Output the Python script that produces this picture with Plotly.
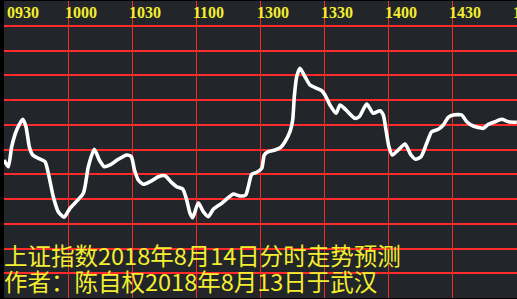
import plotly.graph_objects as go

# minutes since 09:30 (trading-time axis, 240 minutes total)
minutes = [0, 2.02, 3.61, 5.95, 8.77, 10.31, 11.86, 13.45, 16.08, 19.22, 20.77, 23.11, 25.45, 28.13,
           30.94, 37.17, 39.52, 42.33, 44.67, 47.02, 49.69, 53.58, 57.52, 59.67, 61.17, 62.95, 65.30,
           68.44, 72.33, 75.47, 78.61, 80.95, 83.77, 85.64, 87.19, 88.45, 91.08, 93.42, 95.77, 98.11,
           102.05, 105.14, 107.48, 110.63, 113.30, 114.52, 116.11, 118.45, 120.80, 122.02, 123.89,
           127.03, 129.70, 131.72, 134.06, 135.33, 136.08, 137.20, 138.75, 141.09, 143.44, 146.58,
           148.92, 150.47, 152.81, 155.63, 157.5, 160.31, 164.53, 166.55, 170.02, 173.11, 176.25,
           177.80, 179.06, 180.47, 182.02, 184.83, 187.97, 190.78, 192.98, 195.47, 198.14, 200.48,
           203.58, 205.92, 208.27, 210.61, 214.55, 216.89, 219.98, 224.67, 227.02, 230.16, 233.30,
           236.39, 240.4]

# predicted level, in grid-row units
values = [5.576, 5.305, 6.113, 6.788, 7.220, 6.921, 6.113, 5.778, 5.644, 5.507, 5.038, 4.093, 3.487, 3.261,
          3.624, 4.230, 5.305, 6.008, 5.576, 5.305, 5.374, 5.604, 5.778, 5.709, 5.172, 4.768, 4.594,
          4.699, 4.901, 4.941, 4.659, 4.497, 4.404, 3.960, 3.422, 3.244, 3.851, 3.487, 3.285, 3.584,
          3.826, 4.053, 4.202, 4.121, 4.162, 4.497, 4.998, 5.079, 5.240, 5.778, 5.911,
          5.980, 6.089, 6.315, 6.719, 7.192, 8.133, 8.941, 9.281, 8.941, 8.606, 8.473,
          8.376, 8.202, 7.798, 7.463, 7.798, 7.596, 7.261, 7.325, 7.838, 7.463, 7.568,
          7.394, 6.788, 6.101, 5.778, 5.980, 6.222, 5.778, 5.604, 5.709, 6.251, 6.719,
          6.816, 6.990, 7.301, 7.394, 7.394, 7.123, 6.949, 6.857, 7.018, 7.123, 7.220,
          7.123, 7.099]

tick_minutes = [0, 30, 60, 90, 120, 150, 180, 210, 240]
tick_labels = ["0930", "1000", "1030", "1100", "1300", "1330", "1400", "1430", "1500"]
row_levels = list(range(0, 13))

title_line1 = "上证指数2018年8月14日分时走势预测"
title_line2 = "作者：陈自权2018年8月13日于武汉"

RED = "#f02a2a"
YELLOW = "#f4ee30"

fig = go.Figure()
fig.add_trace(go.Scatter(x=minutes, y=values, mode="lines",
                         line=dict(color="white", width=3.6, shape="spline", smoothing=0.6),
                         hoverinfo="skip"))

annotations = []
for i, (m, lab) in enumerate(zip(tick_minutes, tick_labels)):
    annotations.append(dict(x=m, y=11.55, xref="x", yref="y", text=lab, showarrow=False,
                            xanchor="left", yanchor="middle", xshift=(1 if i == 0 else -5),
                            font=dict(family="Liberation Serif", size=16, color=YELLOW, weight="bold")))
annotations.append(dict(x=0, y=(298 - 255) / 24.75, xref="x", yref="y", text=title_line1, showarrow=False,
                        xanchor="left", yanchor="middle", xshift=-2,
                        font=dict(family="Noto Sans CJK SC", size=23.5, color=YELLOW)))
annotations.append(dict(x=0, y=(298 - 281) / 24.75, xref="x", yref="y", text=title_line2, showarrow=False,
                        xanchor="left", yanchor="middle", xshift=-2,
                        font=dict(family="Noto Sans CJK SC", size=23.5, color=YELLOW)))

fig.update_layout(
    width=517, height=299,
    margin=dict(l=4, r=0, t=1, b=1),
    paper_bgcolor="black",
    plot_bgcolor="#222529",
    showlegend=False,
    annotations=annotations,
    xaxis=dict(range=[0, 240.47], tickvals=tick_minutes[:-1], showticklabels=False,
               showgrid=True, gridcolor=RED, gridwidth=1, zeroline=False,
               showline=False, fixedrange=True),
    yaxis=dict(range=[0, 12], tickvals=row_levels, showticklabels=False,
               showgrid=True, gridcolor="#ff2a2a", gridwidth=1.6, zeroline=False,
               showline=False, fixedrange=True),
)

fig.write_html("out.html", config={"displayModeBar": False})
